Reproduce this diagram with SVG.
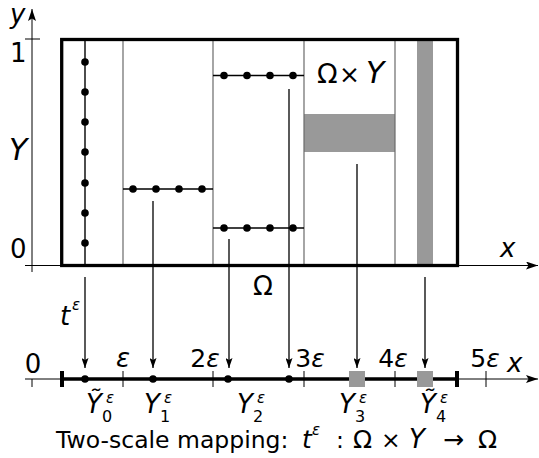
<svg xmlns="http://www.w3.org/2000/svg" width="539" height="458" viewBox="0 0 539 458">
<style>
text{font-family:"DejaVu Sans",sans-serif;fill:#000}
.i{font-style:italic}
.lab{font-size:26px}
.sub{font-size:16px;font-style:normal}
.sup{font-size:15px;font-style:italic}
.ax{stroke:#000;stroke-width:1;fill:none}
.grid{stroke:#6a6a6a;stroke-width:1.2}
.dl{stroke:#000;stroke-width:1.4}
.dot{fill:#000}
.band{fill:#999}
.tick{stroke:#000;stroke-width:1}
.con{stroke:#000;stroke-width:1.3;fill:none;marker-end:url(#ah)}
</style>
<defs>
<marker id="ah" viewBox="0 0 10 7" refX="10" refY="3.5" markerWidth="10" markerHeight="7" markerUnits="userSpaceOnUse" orient="auto">
<path d="M0,0 L10,3.5 L0,7 L2,3.5 z" fill="#000"/>
</marker>
<marker id="ax" viewBox="0 0 12 8" refX="12" refY="4" markerWidth="12" markerHeight="8" markerUnits="userSpaceOnUse" orient="auto">
<path d="M0,0 L12,4 L0,8 L2.5,4 z" fill="#000"/>
</marker>
</defs>

<g id="axes">
<line class="ax" x1="32" y1="272" x2="32" y2="9" marker-end="url(#ax)"/>
<line class="ax" x1="25" y1="265.5" x2="538" y2="265.5" marker-end="url(#ax)"/>
<line class="tick" x1="25" y1="39" x2="40" y2="39"/>
<text class="lab i" x="10" y="23">y</text>
<text class="lab" x="10" y="62">1</text>
<text class="i" x="9" y="160" font-size="30">Y</text>
<text class="lab" x="10" y="258">0</text>
<text class="lab i" x="500" y="257">x</text>
</g>

<g id="omega-y">
<rect class="band" x="304" y="114" width="91" height="38"/>
<rect class="band" x="417" y="39.5" width="16" height="226"/>
<line class="grid" x1="123" y1="39.5" x2="123" y2="265.5"/>
<line class="grid" x1="213" y1="39.5" x2="213" y2="265.5"/>
<line class="grid" x1="304" y1="39.5" x2="304" y2="265.5"/>
<line class="grid" x1="395" y1="39.5" x2="395" y2="265.5"/>
<rect x="61.7" y="39.5" width="395.8" height="226" fill="none" stroke="#000" stroke-width="3.3"/>
<text y="83" font-size="27"><tspan x="317">Ω</tspan><tspan x="339" font-size="25">×</tspan><tspan x="366" class="i" font-size="30">Y</tspan></text>
<text x="263" y="295" font-size="26" text-anchor="middle">Ω</text>
</g>

<g id="cell0">
<line class="dl" x1="85" y1="39.5" x2="85" y2="265.5"/>
<circle class="dot" cx="85" cy="62" r="3.8"/>
<circle class="dot" cx="85" cy="92" r="3.8"/>
<circle class="dot" cx="85" cy="122" r="3.8"/>
<circle class="dot" cx="85" cy="152" r="3.8"/>
<circle class="dot" cx="85" cy="183" r="3.8"/>
<circle class="dot" cx="85" cy="213" r="3.8"/>
<circle class="dot" cx="85" cy="243" r="3.8"/>
</g>

<g id="cell1">
<line class="dl" x1="123" y1="189" x2="213" y2="189"/>
<circle class="dot" cx="133" cy="189" r="3.8"/>
<circle class="dot" cx="156" cy="189" r="3.8"/>
<circle class="dot" cx="179" cy="189" r="3.8"/>
<circle class="dot" cx="202" cy="189" r="3.8"/>
</g>

<g id="cell2">
<line class="dl" x1="213" y1="75.5" x2="304" y2="75.5"/>
<circle class="dot" cx="224" cy="75.5" r="3.8"/>
<circle class="dot" cx="247" cy="75.5" r="3.8"/>
<circle class="dot" cx="270" cy="75.5" r="3.8"/>
<circle class="dot" cx="293" cy="75.5" r="3.8"/>
<line class="dl" x1="213" y1="228" x2="304" y2="228"/>
<circle class="dot" cx="224" cy="228" r="3.8"/>
<circle class="dot" cx="247" cy="228" r="3.8"/>
<circle class="dot" cx="270" cy="228" r="3.8"/>
<circle class="dot" cx="293" cy="228" r="3.8"/>
</g>

<g id="connectors">
<line class="con" x1="85" y1="277" x2="85" y2="368"/>
<line class="con" x1="153" y1="201" x2="153" y2="368"/>
<line class="con" x1="229" y1="239" x2="229" y2="368"/>
<line class="con" x1="289" y1="89" x2="289" y2="368"/>
<line class="con" x1="357" y1="164" x2="357" y2="368"/>
<line class="con" x1="425" y1="277" x2="425" y2="368"/>
<text class="i" y="325" font-size="26"><tspan x="60">t</tspan><tspan class="sup" x="72" y="310">ε</tspan></text>
</g>

<g id="omega-axis">
<line class="ax" x1="25" y1="379" x2="538" y2="379" marker-end="url(#ax)"/>
<line x1="62" y1="379" x2="457" y2="379" stroke="#000" stroke-width="3.5"/>
<line x1="62" y1="371" x2="62" y2="387" stroke="#000" stroke-width="4"/>
<line x1="457" y1="371" x2="457" y2="387" stroke="#000" stroke-width="4"/>
<line class="tick" x1="32" y1="379" x2="32" y2="387"/>
<line class="tick" x1="123" y1="371" x2="123" y2="387"/>
<line class="tick" x1="213" y1="371" x2="213" y2="387"/>
<line class="tick" x1="304" y1="371" x2="304" y2="387"/>
<line class="tick" x1="395" y1="371" x2="395" y2="387"/>
<line class="tick" x1="486" y1="371" x2="486" y2="387"/>
<rect class="band" x="349" y="371" width="16" height="16"/>
<rect class="band" x="417" y="371" width="16" height="16"/>
<circle class="dot" cx="85" cy="379" r="3.8"/>
<circle class="dot" cx="153" cy="379" r="3.8"/>
<circle class="dot" cx="228" cy="379" r="3.8"/>
<circle class="dot" cx="289" cy="379" r="3.8"/>
<text class="lab" x="33" y="373" text-anchor="middle">0</text>
<text class="lab i" x="123" y="367" text-anchor="middle">ε</text>
<text class="lab" x="205" y="367" text-anchor="middle" style="font-size:25px">2<tspan class="i">ε</tspan></text>
<text class="lab" x="310" y="367" text-anchor="middle" style="font-size:25px">3<tspan class="i">ε</tspan></text>
<text class="lab" x="393" y="367" text-anchor="middle" style="font-size:25px">4<tspan class="i">ε</tspan></text>
<text class="lab" x="485" y="367" text-anchor="middle" style="font-size:25px">5<tspan class="i">ε</tspan></text>
<text class="lab i" x="507" y="372">x</text>
</g>

<g id="labels">
<text font-size="26"><tspan class="i" x="86" y="413">Ỹ</tspan><tspan class="sub" x="102" y="422">0</tspan><tspan class="sup" x="106" y="403">ε</tspan></text>
<text font-size="26"><tspan class="i" x="144" y="413">Y</tspan><tspan class="sub" x="160" y="422">1</tspan><tspan class="sup" x="164" y="403">ε</tspan></text>
<text font-size="26"><tspan class="i" x="237" y="413">Y</tspan><tspan class="sub" x="253" y="422">2</tspan><tspan class="sup" x="257" y="403">ε</tspan></text>
<text font-size="26"><tspan class="i" x="339" y="413">Y</tspan><tspan class="sub" x="355" y="422">3</tspan><tspan class="sup" x="359" y="403">ε</tspan></text>
<text font-size="26"><tspan class="i" x="420" y="413">Ỹ</tspan><tspan class="sub" x="436" y="422">4</tspan><tspan class="sup" x="440" y="403">ε</tspan></text>
</g>

<g id="caption">
<text y="448" font-size="23.5"><tspan x="56">Two-scale mapping:</tspan><tspan class="i" x="302" font-size="25">t</tspan><tspan class="sup" x="312" y="435">ε</tspan><tspan x="336" y="448">:</tspan><tspan x="353" font-size="25">Ω</tspan><tspan x="381">×</tspan><tspan class="i" x="409" font-size="26">Y</tspan><tspan x="443" font-size="25">→</tspan><tspan x="478" font-size="25">Ω</tspan></text>
</g>
</svg>
